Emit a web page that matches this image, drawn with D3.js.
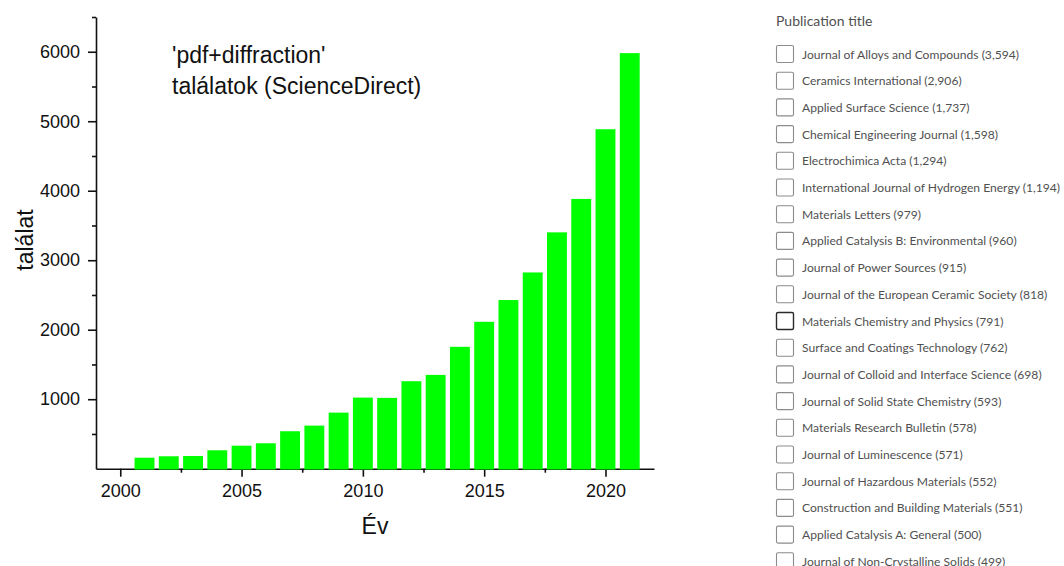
<!DOCTYPE html>
<html><head><meta charset="utf-8">
<script src="https://cdn.jsdelivr.net/npm/d3@7"></script>
<style>
html,body{margin:0;padding:0;background:#fff;}
svg{display:block;}
</style>
</head><body>
<svg id="chart" width="1064" height="566"></svg>
<script>
// ---- data ----
const years = [2001,2002,2003,2004,2005,2006,2007,2008,2009,2010,2011,2012,2013,2014,2015,2016,2017,2018,2019,2020,2021];
const counts = [158,179,183,265,331,366,539,620,807,1023,1019,1259,1350,1754,2114,2427,2824,3401,3882,4885,5980];
const yMajorTicks = [1000,2000,3000,4000,5000,6000];
const yMinorTicks = [500,1500,2500,3500,4500,5500,6500];
const xMajorTicks = [2000,2005,2010,2015,2020];
const xMinorTicks = [2002.5,2007.5,2012.5,2017.5];
const annotationLines = ["'pdf+diffraction'", "találatok (ScienceDirect)"];
const yTitle = "találat";
const xTitle = "Év";
const panelTitle = "Publication title";
const journals = ["Journal of Alloys and Compounds","Ceramics International","Applied Surface Science","Chemical Engineering Journal","Electrochimica Acta","International Journal of Hydrogen Energy","Materials Letters","Applied Catalysis B: Environmental","Journal of Power Sources","Journal of the European Ceramic Society","Materials Chemistry and Physics","Surface and Coatings Technology","Journal of Colloid and Interface Science","Journal of Solid State Chemistry","Materials Research Bulletin","Journal of Luminescence","Journal of Hazardous Materials","Construction and Building Materials","Applied Catalysis A: General","Journal of Non-Crystalline Solids"];
const journalCounts = [3594,2906,1737,1598,1294,1194,979,960,915,818,791,762,698,593,578,571,552,551,500,499];
const highlighted = "Materials Chemistry and Physics";

// ---- chart ----
const svg = d3.select("#chart");
const x = d3.scaleLinear().domain([1999,2022]).range([96,654]);
const y = d3.scaleLinear().domain([0,6500]).range([468.7,17]);
const FONT = "'Liberation Sans', Arial, sans-serif";

const gy = svg.append("g").attr("transform","translate(96,0)");
gy.call(d3.axisLeft(y).tickValues(yMajorTicks).tickSize(8).tickSizeOuter(0).tickPadding(8).tickFormat(d3.format("d")));
gy.append("g").call(d3.axisLeft(y).tickValues(yMinorTicks).tickSize(4).tickSizeOuter(0).tickFormat(""))
  .select(".domain").remove();

const gx = svg.append("g").attr("transform","translate(0,468.7)");
gx.call(d3.axisBottom(x).tickValues(xMajorTicks).tickSize(8).tickSizeOuter(0).tickPadding(8).tickFormat(d3.format("d")));
gx.append("g").call(d3.axisBottom(x).tickValues(xMinorTicks).tickSize(4).tickSizeOuter(0).tickFormat(""))
  .select(".domain").remove();

svg.selectAll(".domain, .tick line").attr("stroke","#111").attr("stroke-width",1.6);
svg.selectAll(".tick text").attr("font-family",FONT).attr("font-size",18).attr("fill","#111");

const data = years.map((yr,i)=>({year:yr,value:counts[i]}));
svg.append("g").selectAll("rect").data(data).join("rect")
  .attr("x", d=>x(d.year-0.41))
  .attr("width", d=>x(d.year+0.41)-x(d.year-0.41))
  .attr("y", d=>y(d.value))
  .attr("height", d=>y(0)-y(d.value)+0.8)
  .attr("fill","#00ff00");

const ann = svg.append("text").attr("font-family",FONT).attr("font-size",23).attr("fill","#111");
annotationLines.forEach((t,i)=>{
  ann.append("tspan").attr("x",172).attr("y",63+i*31).text(t);
});

svg.append("text").attr("transform","translate(33,240) rotate(-90)")
  .attr("text-anchor","middle").attr("font-family",FONT).attr("font-size",23).attr("fill","#111").text(yTitle);
svg.append("text").attr("x",375).attr("y",534)
  .attr("text-anchor","middle").attr("font-family",FONT).attr("font-size",23).attr("fill","#111").text(xTitle);

// ---- right panel ----
const PFONT = "Lato, 'Open Sans', sans-serif";
const panel = svg.append("g");
panel.append("text").attr("x",776).attr("y",22).attr("dominant-baseline","middle")
  .attr("font-family",PFONT).attr("font-size",14).attr("fill","#505050").text(panelTitle);
const rowY = d3.scaleLinear().domain([0,1]).range([54,80.7]);
const rows = panel.selectAll("g.row").data(journals.map((j,i)=>({name:j,count:journalCounts[i],i}))).join("g")
  .attr("class","row").attr("transform",d=>`translate(0,${rowY(d.i)})`);
rows.append("rect").attr("x",776.5).attr("y",-8.5).attr("width",17).attr("height",17).attr("rx",1.5)
  .attr("fill","#fff")
  .attr("stroke",d=>d.name===highlighted?"#2a2a2a":"#8c8c8c")
  .attr("stroke-width",d=>d.name===highlighted?1.4:1.1);
rows.append("text").attr("x",802).attr("y",0).attr("dominant-baseline","central")
  .attr("font-family",PFONT).attr("font-size",12.1).attr("fill","#505050")
  .text(d=>`${d.name} (${d3.format(",")(d.count)})`);
</script>
</body></html>
